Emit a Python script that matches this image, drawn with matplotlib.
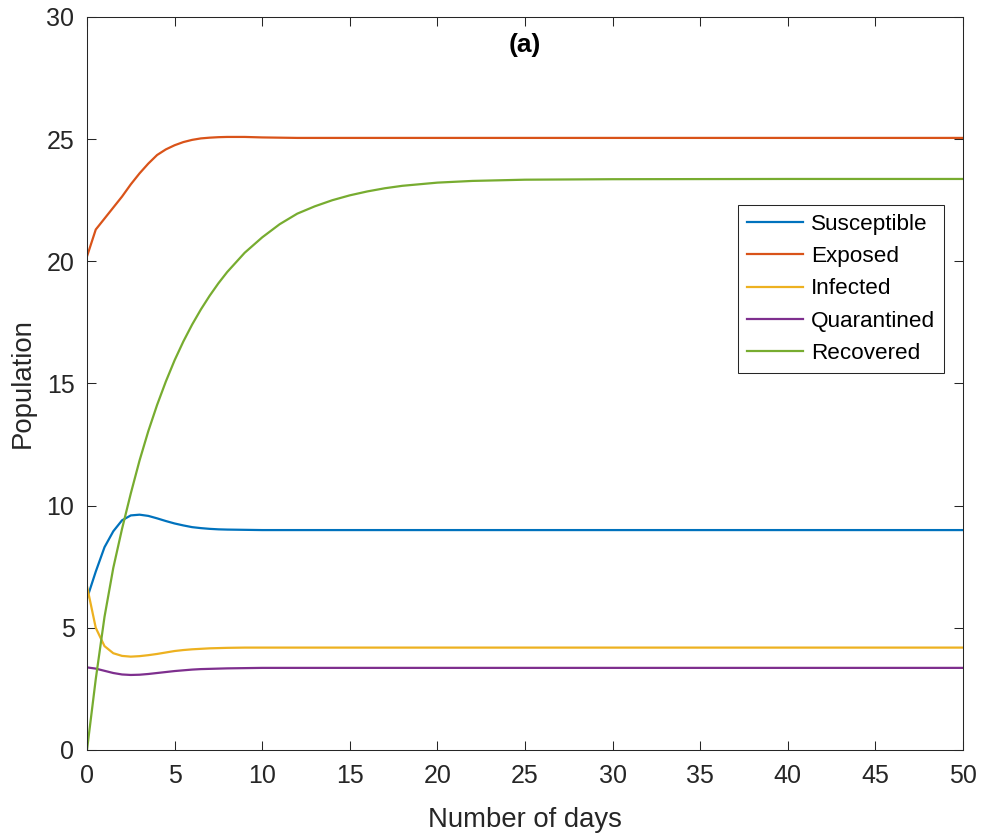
import matplotlib.pyplot as plt

plt.rcParams['font.family'] = ['Liberation Sans', 'DejaVu Sans']

# time points (days)
days = [0, 0.5, 1, 1.5, 2, 2.5, 3, 3.5, 4, 4.5, 5, 5.5, 6, 6.5, 7, 7.5, 8,
        9, 10, 11, 12, 13, 14, 15, 16, 17, 18, 20, 22, 25, 30, 40, 50]

susceptible = [6.2, 7.3, 8.3, 8.95, 9.4, 9.6, 9.63, 9.58, 9.48, 9.37, 9.27, 9.19, 9.12, 9.08, 9.05, 9.03, 9.02,
               9.01, 9.0, 9.0, 9.0, 9.0, 9.0, 9.0, 9.0, 9.0, 9.0, 9.0, 9.0, 9.0, 9.0, 9.0, 9.0]
exposed = [20.2, 21.3, 21.75, 22.2, 22.65, 23.15, 23.6, 24.0, 24.35, 24.58, 24.75, 24.88, 24.97, 25.03, 25.06, 25.08, 25.09,
           25.09, 25.07, 25.06, 25.05, 25.05, 25.05, 25.05, 25.05, 25.05, 25.05, 25.05, 25.05, 25.05, 25.05, 25.05, 25.05]
infected = [6.7, 5.0, 4.25, 3.96, 3.85, 3.82, 3.84, 3.88, 3.93, 3.99, 4.05, 4.09, 4.12, 4.14, 4.16, 4.17, 4.18,
            4.19, 4.19, 4.19, 4.19, 4.19, 4.19, 4.19, 4.19, 4.19, 4.19, 4.19, 4.19, 4.19, 4.19, 4.19, 4.19]
quarantined = [3.38, 3.33, 3.24, 3.15, 3.09, 3.07, 3.08, 3.11, 3.15, 3.19, 3.23, 3.26, 3.29, 3.31, 3.32, 3.33, 3.34,
               3.35, 3.36, 3.36, 3.36, 3.36, 3.36, 3.36, 3.36, 3.36, 3.36, 3.36, 3.36, 3.36, 3.36, 3.36, 3.36]
recovered = [0, 2.9, 5.45, 7.45, 9.05, 10.5, 11.85, 13.05, 14.12, 15.08, 15.95, 16.72, 17.41, 18.03, 18.59, 19.1, 19.56,
             20.35, 20.98, 21.52, 21.95, 22.25, 22.5, 22.7, 22.86, 22.99, 23.09, 23.22, 23.29, 23.34, 23.36, 23.37, 23.37]

labels = ["Susceptible", "Exposed", "Infected", "Quarantined", "Recovered"]
colors = ["#0072BD", "#D95319", "#EDB120", "#7E2F8E", "#77AC30"]

fig = plt.figure(figsize=(9.83, 8.36), dpi=100)
ax = fig.add_axes([0.0885, 0.1029, 0.8912, 0.8768])

for y, lab, c in zip([susceptible, exposed, infected, quarantined, recovered], labels, colors):
    ax.plot(days, y, color=c, lw=1.6, label=lab)

ax.set_xlim(0, 50)
ax.set_ylim(0, 30)
ax.set_xticks(range(0, 51, 5))
ax.set_yticks(range(0, 31, 5))
ax.tick_params(direction='in', length=6.5, width=0.75, top=True, right=True,
               labelsize=18, colors='#262626')
ax.tick_params(axis='x', pad=10)
ax.tick_params(axis='y', pad=9)
for s in ax.spines.values():
    s.set_color('#262626')
    s.set_linewidth(0.75)

ax.set_xlabel("Number of days", fontsize=19.8, color='#262626', labelpad=14)
ax.set_ylabel("Population", fontsize=19.8, color='#262626', labelpad=8)
ax.text(0.5, 0.962, "(a)", transform=ax.transAxes, ha='center', va='center',
        fontsize=19, fontweight='bold')

leg = ax.legend(loc='upper right', bbox_to_anchor=(0.978, 0.7435), fontsize=16.2,
                fancybox=False, framealpha=1, edgecolor='#262626',
                handlelength=2.5, handletextpad=0.35, labelspacing=0.5,
                borderpad=0.4, borderaxespad=0)
leg.get_frame().set_linewidth(0.75)

plt.savefig("out.png", dpi=100)
